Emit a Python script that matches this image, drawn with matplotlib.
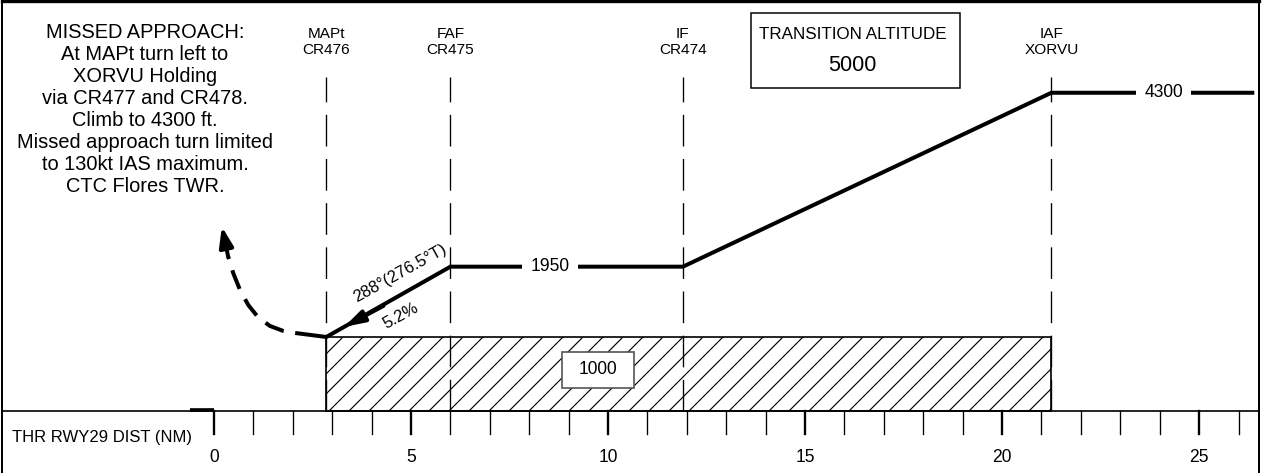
import matplotlib
matplotlib.use("Agg")
import matplotlib.pyplot as plt
from matplotlib.patches import Rectangle

plt.rcParams['font.family'] = ['Liberation Sans Narrow', 'Liberation Sans', 'DejaVu Sans']
plt.rcParams['hatch.linewidth'] = 0.7
plt.rcParams['lines.scale_dashes'] = False

# ---- data ----
dist_ticks = list(range(0, 27))
dist_labels = [0, 5, 10, 15, 20, 25]
fix_names = ['MAPt', 'FAF', 'IF', 'IAF']
fix_ids = ['CR476', 'CR475', 'CR474', 'XORVU']
fix_dist = [2.85, 6.0, 11.9, 21.25]
profile_dist = [2.85, 6.0, 11.9, 21.25, 26.35]
profile_alt = [1000, 1950, 1950, 4300, 4300]
ma_dist = [2.85, 2.06]
ma_alt = [1000, 1054]
ma_curve_dist = [2.06, 1.76, 1.42, 1.12, 0.87, 0.66, 0.49, 0.36, 0.28, 0.20]
ma_curve_alt = [1054, 1081, 1149, 1266, 1432, 1635, 1861, 2085, 2311, 2491]
oca_start, oca_end, oca_alt = 2.85, 21.25, 1000
trans_alt = 5000
missed_text = ("MISSED APPROACH:\nAt MAPt turn left to\nXORVU Holding\nvia CR477 and CR478.\n"
               "Climb to 4300 ft.\nMissed approach turn limited\nto 130kt IAS maximum.\nCTC Flores TWR.")

W, H, DPI = 1264, 473, 120
fig = plt.figure(figsize=(W / DPI, H / DPI), dpi=DPI)
ax = fig.add_axes([2 / W, 0, (1259 - 2) / W, (H - 1) / H])
ax.set_xlim(-5.38, 26.52)
ax.set_ylim(-838, 5540)
ax.set_xticks([]); ax.set_yticks([])
for s in ['left', 'right']:
    ax.spines[s].set_linewidth(1.2)
ax.spines['top'].set_linewidth(2.0)
ax.spines['bottom'].set_visible(False)

# baseline
ax.axhline(0, color='black', lw=1.0, zorder=3)
# ticks
for d in dist_ticks:
    major = d % 5 == 0
    ax.plot([d, d], [0, -311], color='black', lw=1.4 if major else 0.8, zorder=3)
for d in dist_labels:
    ax.text(d, -622, str(d), ha='center', va='center', fontsize=10.5)
ax.text(-5.13, -365, 'THR RWY29 DIST (NM)', ha='left', va='center', fontsize=10)
# threshold marker
ax.plot([-0.6, 0], [15, 15], color='black', lw=2.2, solid_capstyle='butt', zorder=4)

# obstacle clearance box
ax.add_patch(Rectangle((oca_start, 0), oca_end - oca_start, oca_alt, facecolor='white',
                       edgecolor='black', hatch='//', lw=1.0, zorder=1))
ax.add_patch(Rectangle((8.83, 311), 10.66 - 8.83, 797 - 311, facecolor='white',
                       edgecolor='#555555', lw=1.0, zorder=4))
ax.text(9.75, 554, str(oca_alt), ha='center', va='center', fontsize=10.5, zorder=5)

# fix vertical dashed lines and labels
for name, fid, d in zip(fix_names, fix_ids, fix_dist):
    ax.plot([d, d], [0, 4514], color='black', lw=0.8, linestyle=(0, (19, 7.5)), zorder=2)
    ax.text(d, 4990, f"{name}\n{fid}", ha='center', va='center', fontsize=9.2, linespacing=1.15)

# profile
ax.plot(profile_dist, profile_alt, color='black', lw=2.4, solid_joinstyle='miter', zorder=4)
ax.text(8.53, 1950, '1950', ha='center', va='center', fontsize=10.5, zorder=5,
        bbox=dict(boxstyle='square,pad=0.5', facecolor='white', edgecolor='none'))
ax.text(24.1, 4300, '4300', ha='center', va='center', fontsize=10.5, zorder=5,
        bbox=dict(boxstyle='square,pad=0.45', facecolor='white', edgecolor='none'))
# direction arrow on final segment
ax.annotate('', xy=(3.3, 1135), xytext=(4.3, 1420),
            arrowprops=dict(arrowstyle='-|>,head_length=1.0,head_width=0.3', color='black',
                            lw=2.4, shrinkA=0, shrinkB=0), zorder=5)
ax.text(4.72, 1865, '288°(276.5°T)', ha='center', va='center', rotation=29, fontsize=10)
ax.text(4.75, 1290, '5.2%', ha='center', va='center', rotation=29, fontsize=10)

# missed approach
ax.plot(ma_dist, ma_alt, color='black', lw=2.4, solid_capstyle='butt', zorder=4)
ax.plot(ma_curve_dist[:-2], ma_curve_alt[:-2], color='black', lw=2.4,
        linestyle=(12, (12, 7)), solid_capstyle='butt', zorder=4)
ax.annotate('', xy=(ma_curve_dist[-1], ma_curve_alt[-1]),
            xytext=(ma_curve_dist[-3], ma_curve_alt[-3]),
            arrowprops=dict(arrowstyle='-|>,head_length=1.0,head_width=0.35', color='black',
                            lw=2.4, shrinkA=0, shrinkB=0), zorder=5)
ax.text(-1.75, 4068, missed_text, ha='center', va='center', fontsize=12, linespacing=1.2)

# transition altitude box
ax.add_patch(Rectangle((13.63, 4365), 18.93 - 13.63, 5378 - 4365, facecolor='white',
                       edgecolor='black', lw=0.9, zorder=2))
ax.text(16.2, 5081, 'TRANSITION ALTITUDE', ha='center', va='center', fontsize=10.2)
ax.text(16.2, 4662, str(trans_alt), ha='center', va='center', fontsize=13)

fig.savefig('out.png', dpi=DPI)
